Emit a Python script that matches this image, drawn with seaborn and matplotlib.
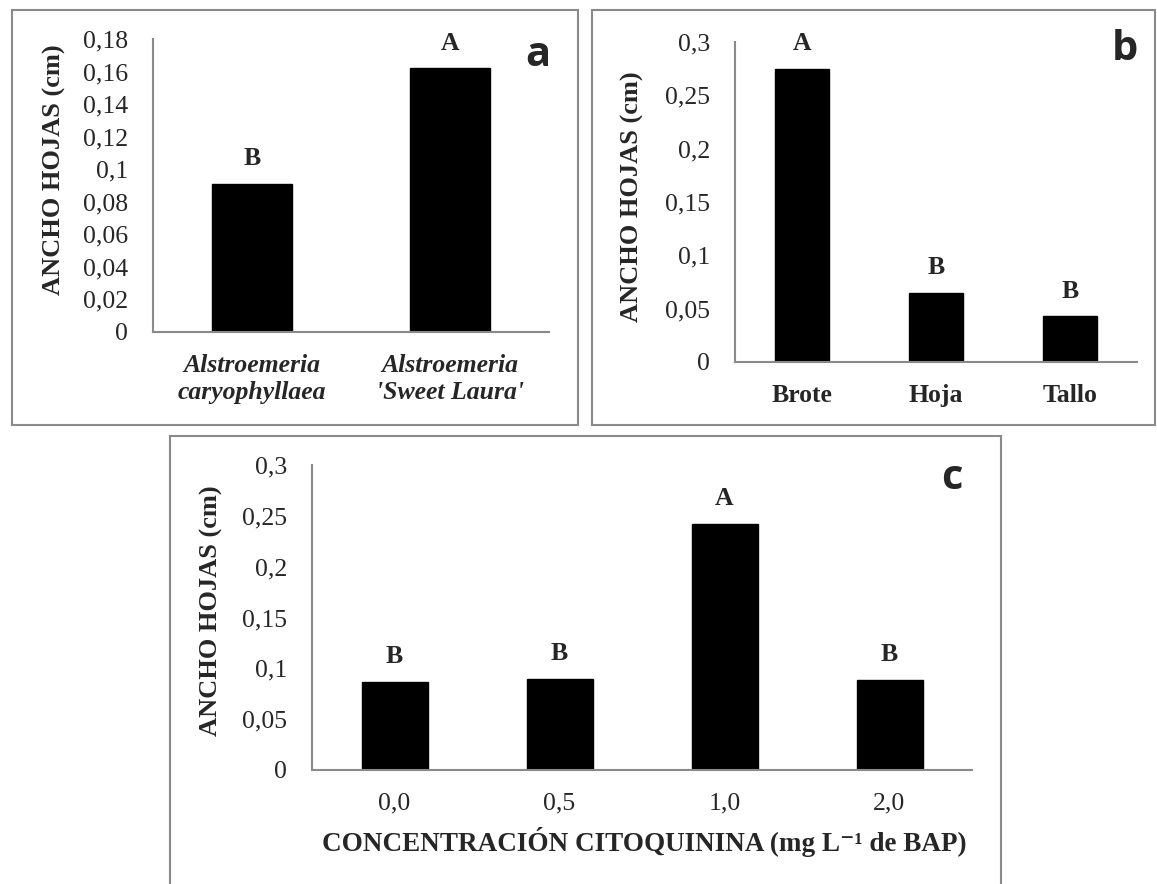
import matplotlib
matplotlib.use("Agg")
import matplotlib.pyplot as plt
import matplotlib.patches as mpatches
import seaborn as sns
import pandas as pd

# ---- data ----
cat_a = ["Alstroemeria\ncaryophyllaea", "Alstroemeria\n'Sweet Laura'"]
val_a = [0.091, 0.162]
sig_a = ["B", "A"]
yticks_a = [0, 0.02, 0.04, 0.06, 0.08, 0.10, 0.12, 0.14, 0.16, 0.18]
yticklabels_a = ["0", "0,02", "0,04", "0,06", "0,08", "0,1", "0,12", "0,14", "0,16", "0,18"]

cat_b = ["Brote", "Hoja", "Tallo"]
val_b = [0.275, 0.065, 0.043]
sig_b = ["A", "B", "B"]

cat_c = ["0,0", "0,5", "1,0", "2,0"]
val_c = [0.087, 0.090, 0.242, 0.089]
sig_c = ["B", "B", "A", "B"]

yticks_bc = [0, 0.05, 0.10, 0.15, 0.20, 0.25, 0.30]
yticklabels_bc = ["0", "0,05", "0,1", "0,15", "0,2", "0,25", "0,3"]

ylabel = "ANCHO HOJAS (cm)"
xlabel_c = "CONCENTRACIÓN CITOQUININA (mg L⁻¹ de BAP)"

# ---- style ----
sns.set_style("white")
plt.rcParams["font.family"] = ["Liberation Serif", "DejaVu Serif"]
plt.rcParams["font.size"] = 18

W, H = 1157, 884
fig = plt.figure(figsize=(W / 100, H / 100), dpi=100)

GRAY = "#8a8a8a"


def px_axes(left, right, top, bottom):
    return fig.add_axes([left / W, 1 - bottom / H, (right - left) / W, (bottom - top) / H])


def box(x0, y0, x1, y1):
    r = mpatches.Rectangle((x0 / W, 1 - y1 / H), (x1 - x0) / W, (y1 - y0) / H,
                           transform=fig.transFigure, fill=False,
                           edgecolor=GRAY, linewidth=1.5)
    fig.add_artist(r)


def panel(ax, cats, vals, sigs, ymax, yticks, yticklabels, xfont):
    df = pd.DataFrame({"cat": cats, "val": vals})
    sns.barplot(data=df, x="cat", y="val", color="black", width=0.4,
                saturation=1, ax=ax, edgecolor="black")
    ax.set_ylim(0, ymax)
    ax.set_yticks(yticks)
    ax.set_yticklabels(yticklabels, fontsize=18.5)
    ax.set_xticks(range(len(cats)))
    ax.set_xticklabels(cats, **xfont)
    ax.tick_params(axis="y", length=0, pad=18)
    ax.tick_params(axis="x", length=0, pad=16)
    for s in ["top", "right"]:
        ax.spines[s].set_visible(False)
    for s in ["left", "bottom"]:
        ax.spines[s].set_color(GRAY)
        ax.spines[s].set_linewidth(1.5)
    ax.set_xlabel("")
    ax.set_ylabel("")
    for i, (v, s) in enumerate(zip(vals, sigs)):
        ax.annotate(s, (i, v), xytext=(0, 18), textcoords="offset points",
                    ha="center", va="center", fontsize=18.5, fontweight="bold")


# borders
box(12, 10, 578, 425)
box(592, 10, 1155, 425)
box(170, 436, 1001, 900)

# panel a
ax_a = px_axes(153, 549, 39, 332)
panel(ax_a, cat_a, val_a, sig_a, 0.18, yticks_a, yticklabels_a,
      dict(fontsize=18.5, fontweight="bold", fontstyle="italic", linespacing=1.2))
fig.text(54 / W, 1 - 170 / H, ylabel, rotation=90, ha="center", va="center",
         fontsize=19, fontweight="bold")
fig.text(538 / W, 1 - 55 / H, "a", ha="center", va="center",
         fontsize=30, fontweight="bold", family=["Open Sans", "DejaVu Sans"])

# panel b
ax_b = px_axes(735, 1137, 42, 362)
panel(ax_b, cat_b, val_b, sig_b, 0.3, yticks_bc, yticklabels_bc,
      dict(fontsize=18.5, fontweight="bold"))
fig.text(632 / W, 1 - 197 / H, ylabel, rotation=90, ha="center", va="center",
         fontsize=19, fontweight="bold")
fig.text(1125 / W, 1 - 50 / H, "b", ha="center", va="center",
         fontsize=30, fontweight="bold", family=["Open Sans", "DejaVu Sans"])

# panel c
ax_c = px_axes(312, 972, 465, 770)
panel(ax_c, cat_c, val_c, sig_c, 0.3, yticks_bc, yticklabels_bc,
      dict(fontsize=18.5))
fig.text(211 / W, 1 - 611 / H, ylabel, rotation=90, ha="center", va="center",
         fontsize=19, fontweight="bold")
fig.text(644 / W, 1 - 842 / H, xlabel_c, ha="center", va="center",
         fontsize=19.5, fontweight="bold")
fig.text(952 / W, 1 - 479 / H, "c", ha="center", va="center",
         fontsize=30, fontweight="bold", family=["Open Sans", "DejaVu Sans"])

fig.savefig("out.png", dpi=100)
